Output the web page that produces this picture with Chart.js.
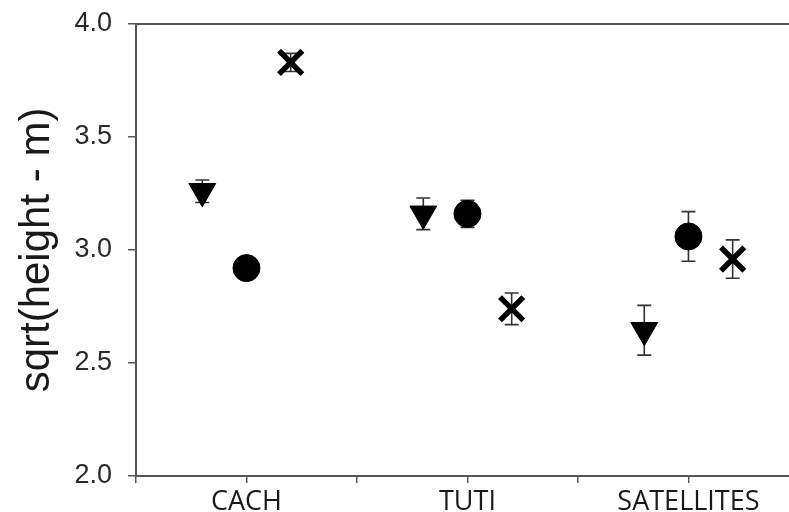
<!DOCTYPE html>
<html>
<head>
<meta charset="utf-8">
<script src="https://cdn.jsdelivr.net/npm/chart.js@4/dist/chart.umd.min.js"></script>
<style>
  html, body { margin: 0; padding: 0; background: #fff; }
  canvas { display: block; }
</style>
</head>
<body>
<canvas id="c" width="789" height="512"></canvas>
<script>
// Sites on the x axis
const categories = ['CACH', 'TUTI', 'SATELLITES'];

// Mean sqrt(height) per site and the half-length of each error bar
const triangleMeans = [3.26, 3.16, 2.645];
const triangleErrors = [0.05, 0.07, 0.11];
const circleMeans = [2.92, 3.16, 3.06];
const circleErrors = [0.03, 0.06, 0.11];
const crossMeans = [3.83, 2.74, 2.96];
const crossErrors = [0.04, 0.07, 0.085];

// Y axis tick values
const yTicks = [2.0, 2.5, 3.0, 3.5, 4.0];

const AXIS = '#555';
const INK = '#1a1a1a';

// site i sits at x = 2i + 1; the three series are spread around it
function points(means, errors, shift) {
  return means.map((m, i) => ({ x: 2 * i + 1 + shift, y: m, err: errors[i] }));
}

// keep the plot area exactly where the axes are fixed, with no label overhang padding
function noOverhang(scale) {
  scale.paddingTop = 0;
  scale.paddingBottom = 0;
  scale.paddingLeft = 0;
  scale.paddingRight = 0;
}

const errorBars = {
  id: 'errorBars',
  beforeDatasetsDraw(chart) {
    const { ctx, scales: { x, y } } = chart;
    ctx.save();
    ctx.strokeStyle = '#333';
    ctx.lineWidth = 1.6;
    chart.data.datasets.forEach(ds => {
      ds.data.forEach(p => {
        const px = x.getPixelForValue(p.x);
        const top = y.getPixelForValue(p.y + p.err);
        const bot = y.getPixelForValue(p.y - p.err);
        ctx.beginPath();
        ctx.moveTo(px, top); ctx.lineTo(px, bot);
        ctx.moveTo(px - 7, top); ctx.lineTo(px + 7, top);
        ctx.moveTo(px - 7, bot); ctx.lineTo(px + 7, bot);
        ctx.stroke();
      });
    });
    ctx.restore();
  }
};

const topFrame = {
  id: 'topFrame',
  afterDraw(chart) {
    const { ctx, chartArea: a } = chart;
    ctx.save();
    ctx.strokeStyle = AXIS;
    ctx.lineWidth = 2;
    ctx.beginPath();
    ctx.moveTo(a.left, a.top);
    ctx.lineTo(chart.width, a.top);
    ctx.stroke();
    ctx.restore();
  }
};

new Chart(document.getElementById('c'), {
  type: 'scatter',
  data: {
    datasets: [
      {
        data: points(triangleMeans, triangleErrors, -0.4),
        pointStyle: 'triangle', rotation: 180,
        pointRadius: 15.5, backgroundColor: '#000', borderColor: '#000', borderWidth: 1
      },
      {
        data: points(circleMeans, circleErrors, 0),
        pointStyle: 'circle',
        pointRadius: 13.5, backgroundColor: '#000', borderColor: '#000', borderWidth: 1
      },
      {
        data: points(crossMeans, crossErrors, 0.4),
        pointStyle: 'crossRot',
        pointRadius: 16.5, backgroundColor: '#000', borderColor: '#000', borderWidth: 5.5
      }
    ]
  },
  options: {
    responsive: false,
    animation: false,
    layout: { autoPadding: false, padding: { top: 24, right: 0, left: 0, bottom: 0 } },
    plugins: { legend: { display: false }, tooltip: { enabled: false } },
    scales: {
      x: {
        type: 'linear',
        min: 0,
        max: 5.91,
        afterBuildTicks(scale) {
          scale.ticks = [0, 1, 2, 3, 4, 5].map(v => ({ value: v }));
        },
        afterFit(scale) { scale.height = 36; noOverhang(scale); },
        ticks: {
          autoSkip: false,
          maxRotation: 0,
          padding: 3,
          color: INK,
          font: { family: 'Open Sans', size: 27 },
          callback: v => (v % 2 === 1 ? categories[(v - 1) / 2] : '')
        },
        grid: { drawOnChartArea: false, tickLength: 7, color: AXIS, lineWidth: 1.5 },
        border: { color: AXIS, width: 2 }
      },
      y: {
        min: 2,
        max: 4,
        afterBuildTicks(scale) {
          scale.ticks = yTicks.map(v => ({ value: v }));
        },
        afterFit(scale) { scale.width = 136; noOverhang(scale); },
        ticks: {
          padding: 16,
          color: '#2a2a2a',
          font: { family: 'Liberation Sans', size: 27 },
          callback: v => v.toFixed(1)
        },
        grid: { drawOnChartArea: false, tickLength: 8, color: AXIS, lineWidth: 1.5 },
        border: { color: AXIS, width: 2 },
        title: {
          display: true,
          text: 'sqrt(height - m)',
          color: INK,
          font: { family: 'Liberation Sans', size: 42 },
          padding: { top: 12, bottom: 0 }
        }
      }
    }
  },
  plugins: [errorBars, topFrame]
});
</script>
</body>
</html>
